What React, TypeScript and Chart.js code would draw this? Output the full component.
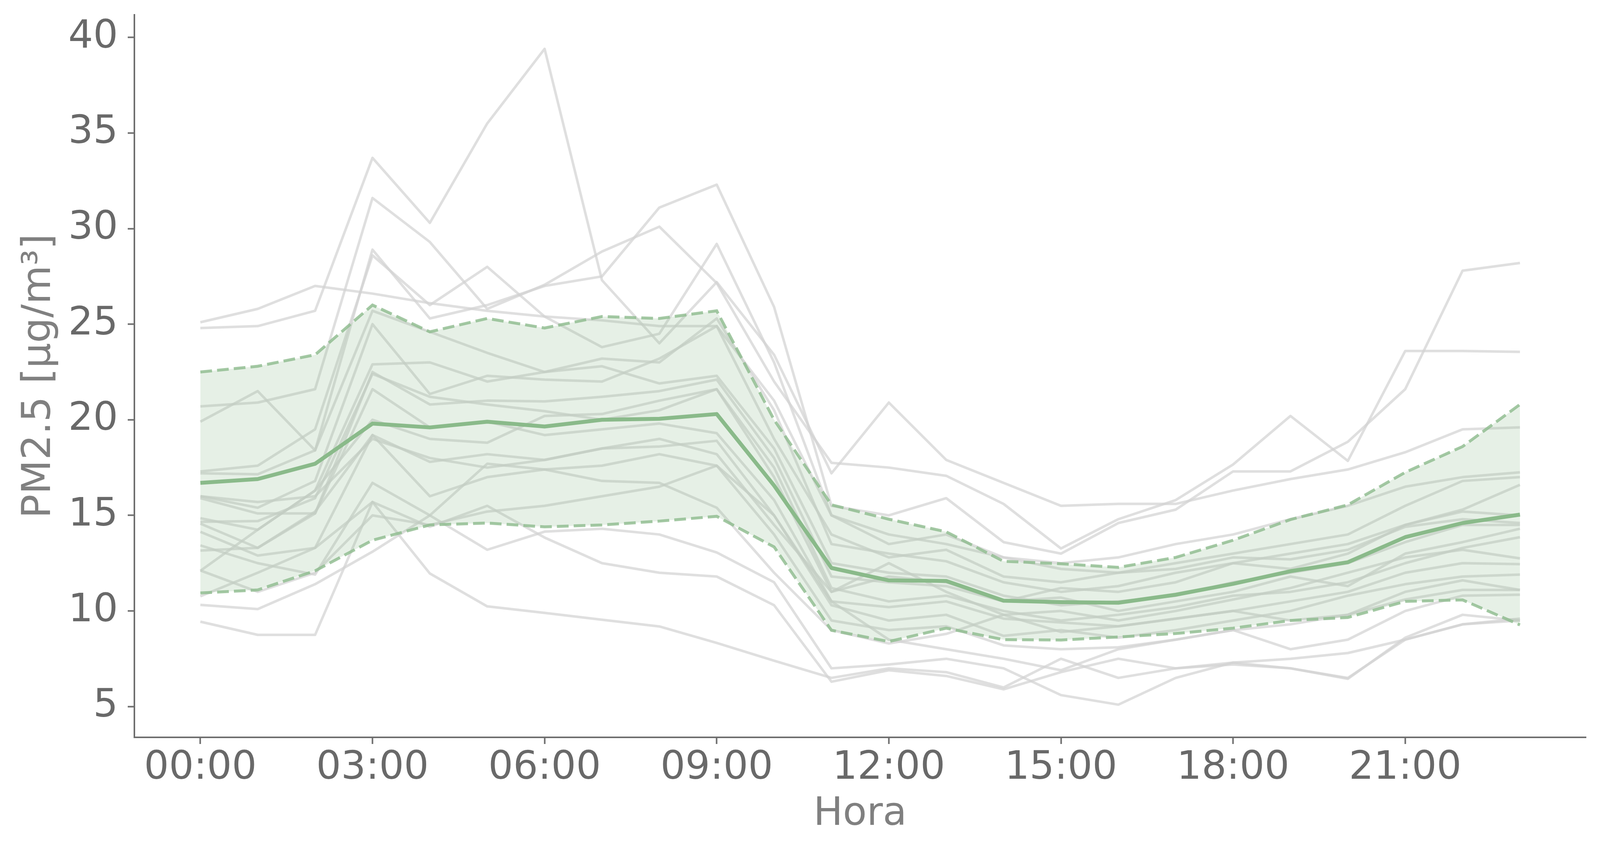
import React, { useEffect, useRef } from 'react';
import { Chart, registerables } from 'chart.js';

Chart.register(...registerables);

// Hours of the day (x values)
const hours = [0, 1, 2, 3, 4, 5, 6, 7, 8, 9, 10, 11, 12, 13, 14, 15, 16, 17, 18, 19, 20, 21, 22, 23];
const tickHours = [0, 3, 6, 9, 12, 15, 18, 21];
const tickLabels = ['00:00', '03:00', '06:00', '09:00', '12:00', '15:00', '18:00', '21:00'];
const yTicks = [5, 10, 15, 20, 25, 30, 35, 40];

// Mean and mean ± std band
const meanValues = [16.7, 16.9, 17.7, 19.8, 19.6, 19.9, 19.65, 20.0, 20.05, 20.3, 16.56, 12.25, 11.6, 11.57, 10.54, 10.46, 10.43, 10.85, 11.42, 12.08, 12.55, 13.86, 14.6, 15.04];
const upperValues = [22.5, 22.8, 23.4, 26.0, 24.6, 25.3, 24.8, 25.4, 25.3, 25.7, 20.0, 15.55, 14.8, 14.14, 12.6, 12.47, 12.28, 12.8, 13.7, 14.78, 15.55, 17.25, 18.6, 20.8];
const lowerValues = [10.94, 11.1, 12.1, 13.7, 14.5, 14.6, 14.4, 14.5, 14.7, 14.95, 13.35, 8.99, 8.4, 9.1, 8.5, 8.48, 8.64, 8.82, 9.1, 9.5, 9.66, 10.5, 10.58, 9.27];

// Individual days (gray lines)
const dayA = [24.8, 24.9, 25.7, 33.7, 30.3, 35.5, 39.4, 27.3, 24.0, 27.2, 23.4, 17.2, 20.9, 17.9, 16.7, 15.5, 15.6, 15.6, 16.3, 16.9, 17.4, 18.3, 19.5, 19.6];
const dayB = [25.1, 25.8, 27.0, 26.6, 26.1, 25.7, 25.4, 25.2, 24.9, 24.9, 21.0, 15.0, 13.5, 14.0, 12.8, 12.5, 12.8, 13.5, 14.0, 14.8, 15.5, 16.5, 17.0, 17.25];
const dayC = [20.7, 20.9, 21.6, 31.6, 29.3, 25.8, 27.06, 28.8, 30.1, 27.15, 22.0, 17.75, 17.5, 17.07, 15.6, 13.27, 14.8, 15.8, 17.66, 20.2, 17.85, 23.6, 23.6, 23.55];
const dayD = [19.9, 21.5, 18.4, 28.9, 25.3, 26.0, 27.0, 27.5, 31.1, 32.3, 25.9, 15.5, 15.0, 15.9, 13.6, 13.0, 14.6, 15.3, 17.3, 17.3, 18.85, 21.6, 27.8, 28.2];
const dayE = [17.3, 17.6, 19.5, 28.6, 26.0, 28.0, 25.4, 23.8, 24.5, 29.2, 23.0, 15.0, 14.0, 13.5, 12.8, 12.2, 12.0, 12.5, 13.0, 13.5, 14.0, 15.5, 16.8, 17.0];
const dayF = [17.2, 17.15, 18.4, 25.7, 24.6, 23.5, 22.5, 23.2, 23.0, 25.3, 20.5, 13.5, 13.0, 12.6, 11.5, 11.0, 11.3, 12.0, 12.5, 13.0, 13.5, 14.5, 15.3, 16.6];
const dayG = [16.0, 15.4, 16.8, 25.0, 21.35, 22.3, 22.1, 22.0, 23.2, 24.9, 19.0, 14.0, 12.8, 13.2, 11.8, 11.5, 12.0, 12.2, 12.8, 12.7, 13.2, 14.4, 14.8, 14.6];
const dayH = [14.85, 14.25, 16.3, 22.9, 23.0, 22.0, 22.5, 22.8, 21.9, 22.3, 18.5, 12.5, 12.0, 11.8, 10.8, 10.3, 10.5, 10.8, 11.5, 12.0, 12.5, 13.6, 14.5, 14.5];
const dayI = [15.9, 15.1, 15.1, 22.5, 20.8, 21.0, 20.96, 21.2, 21.5, 22.1, 18.0, 11.8, 11.5, 11.3, 10.5, 10.7, 10.0, 10.5, 11.0, 11.8, 11.3, 13.0, 13.6, 14.3];
const dayJ = [14.66, 14.7, 15.9, 22.4, 21.2, 20.8, 20.45, 20.0, 20.5, 21.6, 17.0, 11.0, 12.5, 11.0, 9.8, 10.0, 9.5, 10.0, 10.6, 11.2, 12.0, 12.8, 13.2, 12.75];
const dayK = [14.57, 13.3, 15.1, 21.6, 19.6, 19.9, 19.2, 19.5, 19.8, 19.3, 15.8, 10.5, 10.2, 10.5, 9.6, 9.4, 9.2, 9.6, 10.0, 10.5, 11.0, 12.0, 12.5, 12.45];
const dayL = [14.14, 12.9, 13.3, 19.2, 17.8, 18.2, 17.9, 18.5, 18.6, 18.9, 15.0, 10.3, 9.5, 9.8, 8.7, 9.0, 8.6, 9.0, 9.5, 10.0, 10.8, 11.4, 11.8, 11.9];
const dayM = [13.43, 12.5, 11.9, 16.7, 15.0, 17.7, 17.4, 17.6, 18.2, 17.6, 14.0, 9.5, 9.0, 9.2, 8.2, 8.0, 8.1, 8.5, 9.0, 9.3, 9.8, 10.6, 11.1, 11.1];
const dayN = [9.44, 8.75, 8.75, 15.7, 11.96, 10.24, 9.9, 9.54, 9.19, 8.33, 7.4, 6.5, 7.0, 6.8, 6.0, 7.5, 6.5, 7.0, 7.3, 7.5, 7.8, 8.5, 9.3, 9.5];
const dayO = [10.32, 10.1, 11.4, 13.1, 15.0, 13.2, 14.15, 14.3, 14.0, 13.06, 11.5, 7.0, 7.2, 7.5, 7.0, 5.6, 5.1, 6.5, 7.3, 7.0, 6.5, 8.5, 9.3, 9.6];
const dayP = [10.77, 12.0, 13.3, 15.7, 14.4, 15.5, 13.84, 12.5, 12.0, 11.8, 10.3, 6.3, 6.9, 6.6, 5.9, 6.8, 7.5, 7.0, 7.2, 7.0, 6.45, 8.6, 9.8, 9.5];
const dayQ = [12.12, 11.0, 12.0, 15.0, 14.5, 15.2, 15.5, 16.0, 16.5, 17.6, 15.0, 10.5, 8.5, 8.0, 7.5, 6.9, 8.0, 8.5, 9.0, 8.0, 8.5, 10.0, 10.8, 10.85];
const dayR = [13.16, 13.3, 15.2, 19.2, 16.0, 17.0, 17.4, 16.8, 16.7, 15.4, 12.0, 9.0, 8.3, 8.8, 9.8, 8.9, 9.2, 9.6, 10.0, 9.5, 9.8, 11.0, 11.6, 11.1];
const dayS = [16.0, 15.7, 16.0, 19.0, 18.0, 17.5, 17.9, 18.5, 19.0, 18.2, 14.5, 11.0, 11.8, 11.5, 10.5, 11.2, 11.0, 11.5, 12.5, 12.2, 13.0, 14.5, 15.2, 15.0];
const dayT = [12.1, 14.25, 16.3, 20.0, 19.0, 18.8, 20.2, 20.3, 21.0, 21.6, 17.5, 11.2, 10.5, 10.8, 10.0, 9.5, 9.8, 10.2, 10.8, 11.0, 11.5, 12.5, 13.3, 13.86];

const grayDays = [dayA, dayB, dayC, dayD, dayE, dayF, dayG, dayH, dayI, dayJ, dayK, dayL, dayM, dayN, dayO, dayP, dayQ, dayR, dayS, dayT];

const FONT = 'DejaVu Sans';

export default function App() {
  const ref = useRef<HTMLCanvasElement>(null);

  useEffect(() => {
    document.body.style.margin = '0';
    const canvas = ref.current;
    if (!canvas) return;
    const toPts = (arr: number[]) => arr.map((v, i) => ({ x: hours[i], y: v }));

    const green = '#8aba8a';
    const greenDash = 'rgba(143,188,143,0.82)';
    const grayColor = 'rgba(211,211,211,0.72)';
    const axisColor = '#6e6e6e';

    const datasets: any[] = [
      {
        label: 'Media', data: toPts(meanValues), borderColor: green, borderWidth: 10,
        pointRadius: 0, fill: false, order: 0, borderJoinStyle: 'round', borderCapStyle: 'butt',
      },
      {
        label: 'Superior', data: toPts(upperValues), borderColor: greenDash, borderWidth: 7.5,
        borderDash: [30, 13], pointRadius: 0, fill: '+1', backgroundColor: 'rgba(143,188,143,0.22)', order: 2,
      },
      {
        label: 'Inferior', data: toPts(lowerValues), borderColor: greenDash, borderWidth: 7.5,
        borderDash: [30, 13], pointRadius: 0, fill: false, order: 1,
      },
      ...grayDays.map((d, i) => ({
        label: `Día ${i + 1}`, data: toPts(d), borderColor: grayColor, borderWidth: 6.5,
        pointRadius: 0, fill: false, order: 10, borderJoinStyle: 'round',
      })),
    ];

    const zeroPad = (s: any) => { s.paddingTop = 0; s.paddingBottom = 0; s.paddingLeft = 0; s.paddingRight = 0; };

    const chart = new Chart(canvas, {
      type: 'line',
      data: { datasets },
      options: {
        animation: false,
        responsive: false,
        devicePixelRatio: 1,
        layout: { padding: { left: 0, top: 38, right: 43, bottom: 0 } },
        plugins: { legend: { display: false }, tooltip: { enabled: false } },
        scales: {
          x: {
            type: 'linear',
            min: -1.15,
            max: 24.15,
            afterBuildTicks: (s: any) => { s.ticks = tickHours.map((v) => ({ value: v })); },
            afterFit: (s: any) => { s.height = 296; zeroPad(s); },
            ticks: {
              callback: (v: any) => { const i = tickHours.indexOf(Number(v)); return i >= 0 ? tickLabels[i] : ''; },
              font: { family: FONT, size: 100 },
              color: '#696969',
              padding: 3,
              maxRotation: 0,
              autoSkip: false,
            },
            grid: { drawOnChartArea: false, drawTicks: true, tickLength: 17, tickWidth: 4, tickColor: axisColor },
            border: { display: true, color: axisColor, width: 4 },
            title: {
              display: true, text: 'Hora', color: '#808080',
              font: { family: FONT, size: 100 }, padding: { top: 0, bottom: 38 },
            },
          },
          y: {
            type: 'linear',
            min: 3.39,
            max: 41.18,
            afterBuildTicks: (s: any) => { s.ticks = yTicks.map((v) => ({ value: v })); },
            afterFit: (s: any) => { s.width = 344; zeroPad(s); },
            ticks: {
              callback: (v: any) => String(v),
              font: { family: FONT, size: 100 },
              color: '#696969',
              padding: 25,
            },
            grid: { drawOnChartArea: false, drawTicks: true, tickLength: 17, tickWidth: 4, tickColor: axisColor },
            border: { display: true, color: axisColor, width: 4 },
            title: {
              display: true, text: 'PM2.5 [μg/m³]', color: '#808080',
              font: { family: FONT, size: 102 }, padding: { top: 40, bottom: 0 },
            },
          },
        },
      } as any,
    });

    return () => { chart.destroy(); };
  }, []);

  return (
    <div style={{ width: 4103, height: 2183, position: 'relative', background: '#ffffff' }}>
      <canvas ref={ref} width={4103} height={2183} style={{ display: 'block', width: 4103, height: 2183 }} />
    </div>
  );
}
